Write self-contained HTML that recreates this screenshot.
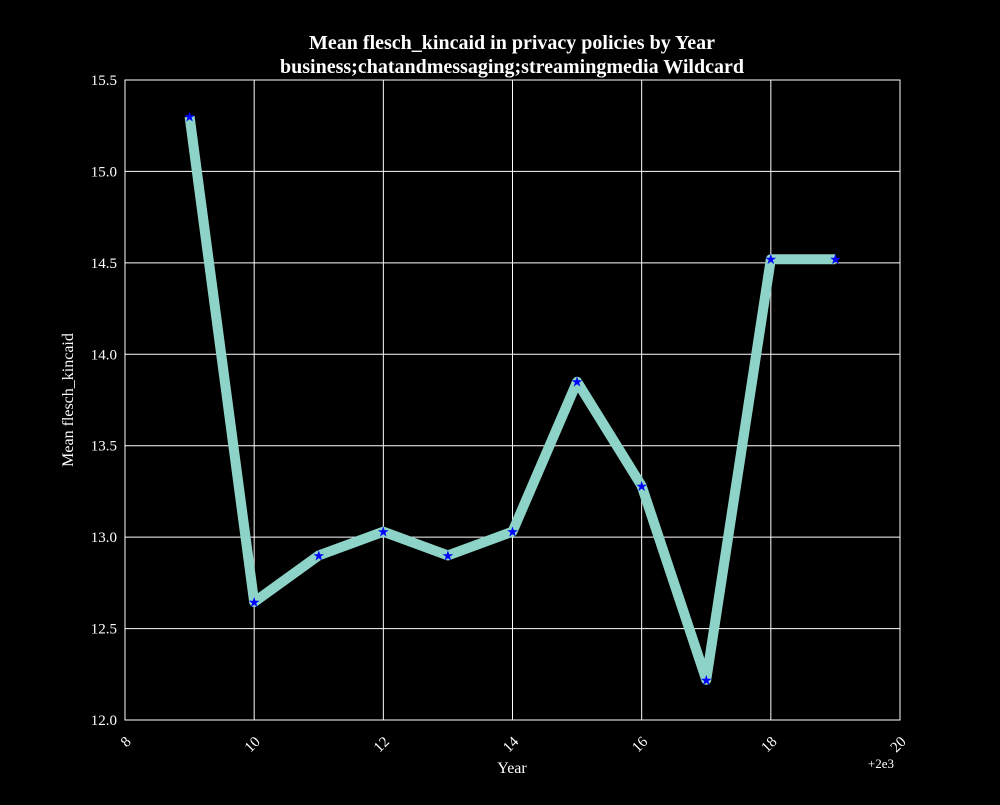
<!DOCTYPE html>
<html><head><meta charset="utf-8"><style>
html,body{margin:0;padding:0;background:#000;}
svg text{font-family:"Liberation Serif",serif;fill:#fff;}
</style></head><body>
<svg id="chart" width="1000" height="800" xmlns="http://www.w3.org/2000/svg">
<rect width="1000" height="800" fill="#000"/>
<text x="512" y="49" text-anchor="middle" font-size="20" font-weight="bold">Mean flesch_kincaid in privacy policies by Year</text>
<text x="512" y="73" text-anchor="middle" font-size="20" font-weight="bold">business;chatandmessaging;streamingmedia Wildcard</text>
<g id="grid"></g>
<g id="marks"></g>
<rect x="125" y="80" width="775" height="640" fill="none" stroke="#fff" stroke-width="1"/>
<g id="ticks"></g>
<text x="512" y="773" text-anchor="middle" font-size="16">Year</text>
<text x="894" y="768" text-anchor="end" font-size="13">+2e3</text>
<text transform="translate(73,400) rotate(-90)" text-anchor="middle" font-size="16">Mean flesch_kincaid</text>
</svg>
<script>
const years=[9,10,11,12,13,14,15,16,17,18,19];
const values=[15.30,12.645,12.90,13.03,12.90,13.03,13.85,13.28,12.22,14.52,14.52];
const xTicks=[8,10,12,14,16,18,20];
const yTicks=[12.0,12.5,13.0,13.5,14.0,14.5,15.0,15.5];
const NS="http://www.w3.org/2000/svg";
const L=125,R=900,T=80,B=720;
const xs=v=>L+(v-8)/(20-8)*(R-L);
const ys=v=>B-(v-12)/(15.5-12)*(B-T);
function mk(tag,attrs,parent){const e=document.createElementNS(NS,tag);for(const k in attrs)e.setAttribute(k,attrs[k]);parent.appendChild(e);return e;}
const grid=document.getElementById('grid'),ticks=document.getElementById('ticks'),marks=document.getElementById('marks');
xTicks.forEach(t=>{
 const g=mk('line',{x1:xs(t),x2:xs(t),y1:T,y2:B,stroke:'#fff','stroke-width':1},grid);
 
 
 const tx=mk('text',{x:xs(t),y:B+22,'font-size':15,'text-anchor':'end',transform:`rotate(-45 ${xs(t)+4} ${B+14})`},ticks);
 tx.textContent=t;
 
 
});
yTicks.forEach(t=>{
 const g=mk('line',{x1:L,x2:R,y1:ys(t),y2:ys(t),stroke:'#fff','stroke-width':1},grid);
 
 
 const tx=mk('text',{x:L-8,y:ys(t)+5,'font-size':15,'text-anchor':'end'},ticks);
 tx.textContent=t.toFixed(1);
 
 
});
const pts=years.map((y,i)=>xs(y)+','+ys(values[i])).join(' ');
const line=mk('polyline',{points:pts,fill:'none',stroke:'#8dd3c7','stroke-width':10,'stroke-linejoin':'round','stroke-linecap':'butt'},marks);


years.forEach((y,i)=>{
 const m=mk('text',{x:xs(y),y:ys(values[i])+5,'text-anchor':'middle','font-size':14,style:'fill:#0000ff;font-family:DejaVu Sans,sans-serif'},marks);
 m.textContent='★';
 
 
});
</script>
</body></html>
